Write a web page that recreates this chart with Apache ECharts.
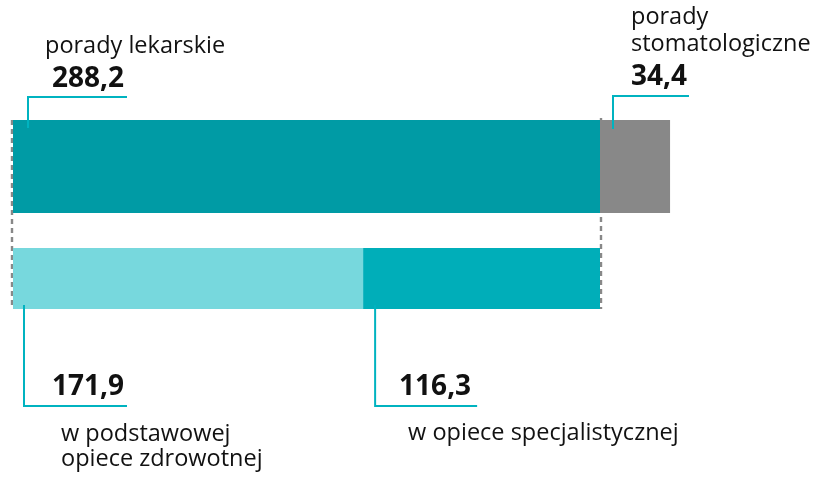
<!DOCTYPE html>
<html><head><meta charset="utf-8">
<script src="https://cdn.jsdelivr.net/npm/echarts@6/dist/echarts.min.js"></script>
<style>html,body{margin:0;padding:0;background:#fff}#c{width:820px;height:477px}</style>
</head><body><div id="c"></div>
<script>
// ---- data ----
const topLabels = ['porady lekarskie', 'porady\nstomatologiczne'];
const topValues = [288.2, 34.4];
const bottomLabels = ['w podstawowej\nopiece zdrowotnej', 'w opiece specjalistycznej'];
const bottomValues = [171.9, 116.3];

// ---- layout / style ----
const FONT = '"Open Sans", sans-serif';
const LABEL_SIZE = 23.5, VALUE_SIZE = 28;
const LEFT = 13, X_MAX = 330;
const PX_PER_UNIT = 587 / 288.2;
const GRID_W = X_MAX * PX_PER_UNIT;
const TOP_BAR = {top: 120, h: 93};
const BOT_BAR = {top: 248, h: 61};
const ANN = '#00B3C0';
const fmt = v => v.toFixed(1).replace('.', ',');

const chart = echarts.init(document.getElementById('c'), null, {renderer: 'canvas'});
const mkBar = (gi, v, color) => ({
  type: 'bar', xAxisIndex: gi, yAxisIndex: gi, stack: 's' + gi, barWidth: '100%',
  data: [v], itemStyle: {color}, silent: true
});
chart.setOption({
  animation: false,
  grid: [
    {left: LEFT, top: TOP_BAR.top, height: TOP_BAR.h, width: GRID_W},
    {left: LEFT, top: BOT_BAR.top, height: BOT_BAR.h, width: GRID_W}
  ],
  xAxis: [0, 1].map(i => ({type: 'value', gridIndex: i, min: 0, max: X_MAX, show: false})),
  yAxis: [0, 1].map(i => ({type: 'category', gridIndex: i, data: ['x'], show: false})),
  series: [
    mkBar(0, topValues[0], '#009BA5'),
    mkBar(0, topValues[1], '#888888'),
    mkBar(1, bottomValues[0], '#77D8DD'),
    mkBar(1, bottomValues[1], '#00AEB9')
  ]
});

const px = (gi, v) => chart.convertToPixel({xAxisIndex: gi}, v);
const x0 = px(0, 0);
const xTopSplit = px(0, topValues[0]);
const xBotSplit = px(1, bottomValues[0]);
const xBotEnd = px(1, bottomValues[0] + bottomValues[1]);
const botBottomY = BOT_BAR.top + BOT_BAR.h;

const els = [];
// dashed connectors
const dash = (x, y1, y2) => els.push({type: 'line', z: 0, shape: {x1: x, y1, x2: x, y2},
  style: {stroke: '#888888', lineWidth: 2.4, lineDash: [5, 4]}});
dash(Math.round(x0) - 1, TOP_BAR.top, botBottomY);
dash(Math.round(xBotEnd) + 1, TOP_BAR.top - 2, botBottomY);

// annotation leaders
const leader = pts => els.push({type: 'polyline', z: 10, shape: {points: pts},
  style: {stroke: ANN, lineWidth: 2, fill: null}});
const text = (t, x, baseline, size, bold, align, lh) => {
  t.split('\n').forEach((line, i) => {
    els.push({type: 'text', z: 10, style: {
      text: line, x, y: baseline + i * (lh || 26) - size * 0.36,
      font: (bold ? 'bold ' : '') + size + 'px ' + FONT, fill: '#111',
      textAlign: align || 'left', textVerticalAlign: 'middle'
    }});
  });
};

// top left
const tl = x0 + 15;
leader([[tl, TOP_BAR.top + 8], [tl, 97], [tl + 99, 97]]);
text(fmt(topValues[0]), tl + 96, 89, VALUE_SIZE, true, 'right');
text(topLabels[0], x0 + 32, 55, LABEL_SIZE, false);

// top right
const tr = xTopSplit + 13;
leader([[tr, TOP_BAR.top + 9], [tr, 96], [tr + 76, 96]]);
text(fmt(topValues[1]), tr + 18, 87, VALUE_SIZE, true);
text(topLabels[1], tr + 18, 26, LABEL_SIZE, false, 'left', 27);

// bottom left
const bl = x0 + 11;
leader([[bl, botBottomY - 4], [bl, 406], [bl + 103, 406]]);
text(fmt(bottomValues[0]), bl + 100, 397, VALUE_SIZE, true, 'right');
text(bottomLabels[0], bl + 37, 443, LABEL_SIZE, false, 'left', 24.5);

// bottom right
const br = xBotSplit + 12;
leader([[br, botBottomY - 4], [br, 406], [br + 102, 406]]);
text(fmt(bottomValues[1]), br + 96, 397, VALUE_SIZE, true, 'right');
text(bottomLabels[1], br + 33, 442, LABEL_SIZE, false);

chart.setOption({graphic: {elements: els}});
</script></body></html>
